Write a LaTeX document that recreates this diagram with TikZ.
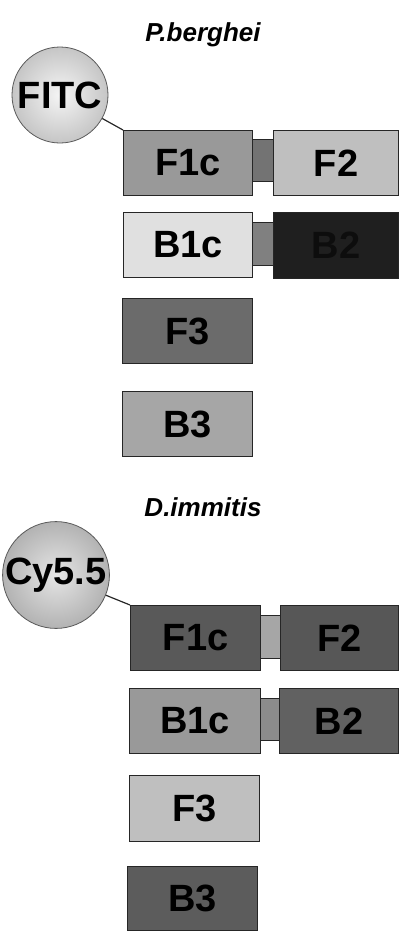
\documentclass[tikz,border=0pt]{standalone}
\usepackage{fontspec}
\setmainfont{Liberation Sans}
\begin{document}
\begin{tikzpicture}[x=1pt,y=-1pt,
  seg/.style={draw=black!85, line width=1.2pt, anchor=north west, inner sep=0pt,
    font=\fontsize{38}{38}\selectfont\bfseries},
  linker/.style={draw=black!85, line width=1pt, anchor=north west, inner sep=0pt},
  dye/.style={circle, draw=black!65, line width=0.8pt, inner sep=0pt,
    minimum size=96pt, font=\fontsize{38}{38}\selectfont\bfseries},
  ttl/.style={font=\fontsize{26}{26}\selectfont\bfseries\itshape},
  tether/.style={draw=black!85, line width=1.2pt}]
\useasboundingbox (0,0) rectangle (399,932);
% ---------- P. berghei ----------
\node[ttl] (t1) at (203,35) {P.berghei};
\node[dye, inner color=gray!8, outer color=gray!45] (fitc) at (60,95) {FITC};
\node[seg, fill=black!40, minimum width=129pt, minimum height=65pt] (pf1) at (123,130) {F1c};
\node[linker, fill=black!55, minimum width=21pt, minimum height=42pt] (pl1) at (252,139) {};
\node[seg, fill=black!25, minimum width=125pt, minimum height=65pt] (pf2) at (273,130) {F2};
\node[seg, fill=black!12, minimum width=129pt, minimum height=65pt] (pb1) at (123,212) {B1c};
\node[linker, fill=black!50, minimum width=21pt, minimum height=43pt] (pl2) at (252,222) {};
\node[seg, fill=black!88, text=black!95, minimum width=125pt, minimum height=66pt] (pb2) at (273,212) {B2};
\node[seg, fill=black!58, minimum width=130pt, minimum height=65pt] (pf3) at (122,298) {F3};
\node[seg, fill=black!35, minimum width=130pt, minimum height=65pt] (pb3) at (122,391) {B3};
\draw[tether] (fitc) -- (pf1.north west);
% ---------- D. immitis ----------
\node[ttl] (t2) at (203,507) {D.immitis};
\node[dye, inner color=gray!20, outer color=gray!60] (cy) at (56,575) {Cy5.5};
\node[seg, fill=black!65, minimum width=130pt, minimum height=65pt] (df1) at (130,605) {F1c};
\node[linker, fill=black!35, minimum width=20pt, minimum height=43pt] (dl1) at (260,615) {};
\node[seg, fill=black!66, minimum width=118pt, minimum height=65pt] (df2) at (280,605) {F2};
\node[seg, fill=black!40, minimum width=131pt, minimum height=65pt] (db1) at (129,688) {B1c};
\node[linker, fill=black!45, minimum width=20pt, minimum height=42pt] (dl2) at (260,698) {};
\node[seg, fill=black!62, minimum width=119pt, minimum height=65pt] (db2) at (279,688) {B2};
\node[seg, fill=black!25, minimum width=130pt, minimum height=66pt] (df3) at (129,775) {F3};
\node[seg, fill=black!64, minimum width=130pt, minimum height=64pt] (db3) at (127,866) {B3};
\draw[tether] (cy) -- (df1.north west);
\end{tikzpicture}
\end{document}
